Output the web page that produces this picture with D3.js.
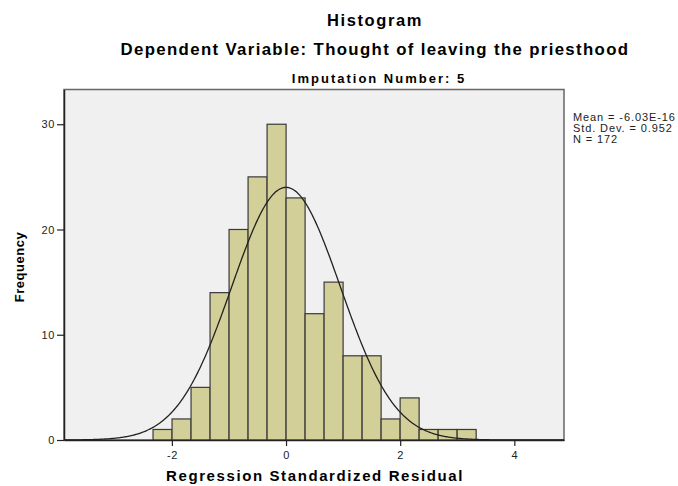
<!DOCTYPE html>
<html>
<head>
<meta charset="utf-8">
<script src="https://cdn.jsdelivr.net/npm/d3@7"></script>
<style>
  body { margin: 0; background: #fff; }
  text { font-family: Arial, "Liberation Sans", sans-serif; }
</style>
</head>
<body>
<svg id="chart" width="678" height="486"></svg>
<script>
// histogram counts, bins of width 1/3 starting at -2.33
var bin_start = -2.33;
var bin_width = 0.333;
var counts = [1, 2, 5, 14, 20, 25, 30, 23, 12, 15, 8, 8, 2, 4, 1, 1, 1];

// fitted normal curve stats (from the legend)
var stat_mean = -6.03e-16;
var stat_sd = 0.952;
var stat_n = 172;

var x_ticks = [-2, 0, 2, 4];
var y_ticks = [0, 10, 20, 30];
var legend_lines = ["Mean = -6.03E-16", "Std. Dev. = 0.952", "N = 172"];

var svg = d3.select("#chart");
var plot_left = 64, plot_right = 564, plot_top = 89.5, plot_bottom = 440;

var x = d3.scaleLinear().domain([-3.89, 4.87]).range([plot_left, plot_right]);
var y = d3.scaleLinear().domain([0, 33.3]).range([plot_bottom, plot_top]);

// titles
svg.append("text").attr("x", 375).attr("y", 26).attr("text-anchor", "middle")
  .attr("font-size", "16.5px").attr("font-weight", "bold").attr("letter-spacing", "1.6px")
  .text("Histogram");
svg.append("text").attr("x", 375).attr("y", 55).attr("text-anchor", "middle")
  .attr("font-size", "16.8px").attr("font-weight", "bold").attr("letter-spacing", "1.35px")
  .text("Dependent Variable: Thought of leaving the priesthood");
svg.append("text").attr("x", 379).attr("y", 82.5).attr("text-anchor", "middle")
  .attr("font-size", "13px").attr("font-weight", "bold").attr("letter-spacing", "2px")
  .text("Imputation Number: 5");

// plot background
svg.append("rect").attr("x", plot_left).attr("y", plot_top)
  .attr("width", plot_right - plot_left).attr("height", plot_bottom - plot_top)
  .attr("fill", "#f0f0f0").attr("stroke", "#666").attr("stroke-width", 1.5);

// bars
svg.append("g").selectAll("rect").data(counts).join("rect")
  .attr("x", function(d, i) { return x(bin_start + i * bin_width); })
  .attr("y", function(d) { return y(d); })
  .attr("width", function(d, i) { return x(bin_start + (i + 1) * bin_width) - x(bin_start + i * bin_width); })
  .attr("height", function(d) { return plot_bottom - y(d); })
  .attr("fill", "#d3cf98")
  .attr("stroke", "#3a3a3a")
  .attr("stroke-width", 1.2);

// normal curve
var scale_k = stat_n * bin_width / (stat_sd * Math.sqrt(2 * Math.PI));
var curve_pts = d3.range(x.domain()[0], x.domain()[1] + 0.001, 0.02).map(function(v) {
  var z = (v - stat_mean) / stat_sd;
  return [v, scale_k * Math.exp(-0.5 * z * z)];
});
svg.append("path").datum(curve_pts)
  .attr("d", d3.line().x(function(d) { return x(d[0]); }).y(function(d) { return y(d[1]); }))
  .attr("fill", "none").attr("stroke", "#222").attr("stroke-width", 1.3);

// axes
var x_axis = svg.append("g").attr("transform", "translate(0," + plot_bottom + ")")
  .call(d3.axisBottom(x).tickValues(x_ticks).tickSize(6).tickSizeOuter(0)
    .tickFormat(function(d) { return String(d); }));
x_axis.select(".domain").attr("stroke", "#222").attr("stroke-width", 1.5);
x_axis.selectAll("text").attr("font-size", "11px").attr("fill", "#222")
  .attr("font-family", "Arial, 'Liberation Sans', sans-serif").attr("letter-spacing", "0.6px").attr("dy", "0.9em");

var y_axis = svg.append("g").attr("transform", "translate(" + plot_left + ",0)")
  .call(d3.axisLeft(y).tickValues(y_ticks).tickSize(7).tickSizeOuter(0)
    .tickFormat(function(d) { return String(d); }));
y_axis.select(".domain").attr("stroke", "#222").attr("stroke-width", 1.5);
y_axis.selectAll("text").attr("font-size", "11px").attr("fill", "#222")
  .attr("font-family", "Arial, 'Liberation Sans', sans-serif").attr("letter-spacing", "0.6px").attr("x", -9);
svg.selectAll(".tick line").attr("stroke", "#222").attr("stroke-width", 1.2);

// axis labels
svg.append("text").attr("x", 315).attr("y", 481).attr("text-anchor", "middle")
  .attr("font-size", "15px").attr("font-weight", "bold").attr("letter-spacing", "1.6px")
  .text("Regression Standardized Residual");
svg.append("text").attr("transform", "translate(24,267) rotate(-90)").attr("text-anchor", "middle")
  .attr("font-size", "13px").attr("font-weight", "bold").attr("letter-spacing", "0.5px")
  .text("Frequency");

// stats legend
svg.append("g").selectAll("text").data(legend_lines).join("text")
  .attr("x", 573).attr("y", function(d, i) { return 121 + i * 11; })
  .attr("font-size", "11px").attr("letter-spacing", "0.9px").attr("fill", "#222")
  .text(function(d) { return d; });
</script>
</body>
</html>
